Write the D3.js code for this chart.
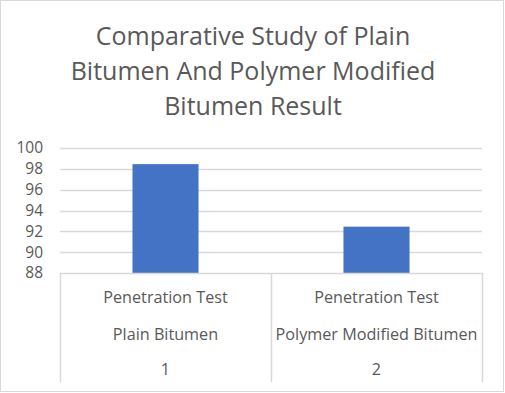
<!DOCTYPE html>
<html><head><meta charset="utf-8">
<script src="https://cdn.jsdelivr.net/npm/d3@7"></script>
<style>
html,body{margin:0;padding:0;background:#fff;}
text{font-family:"Open Sans",sans-serif;fill:#595959;}
</style></head>
<body><svg id="c" width="505" height="393"></svg>
<script>
const titleLines = ["Comparative Study of Plain","Bitumen And Polymer Modified","Bitumen Result"];
const level1 = ["Penetration Test","Penetration Test"];
const level2 = ["Plain Bitumen","Polymer Modified Bitumen"];
const level3 = ["1","2"];
const values = [98.45, 92.45];
const yTicks = [88,90,92,94,96,98,100];

const svg = d3.select("#c");
const W=505,H=393;
const grid="#d9d9d9";
svg.append("rect").attr("x",0.5).attr("y",0.5).attr("width",W-2).attr("height",H-2)
  .attr("fill","#fff").attr("stroke",grid);

const m={l:60,r:482,t:148,b:273};
const x=d3.scaleBand().domain(d3.range(values.length)).range([m.l,m.r]).paddingInner(0.687).paddingOuter(0.3435);
const y=d3.scaleLinear().domain([88,100]).range([m.b,m.t]);

// title
const tg=svg.append("g");
titleLines.forEach((t,i)=>{
  tg.append("text").attr("x",253).attr("y",45+i*35).attr("text-anchor","middle")
    .style("font-size","25px").text(t);
});

// gridlines
svg.append("g").selectAll("line").data(yTicks.slice(1)).join("line")
  .attr("x1",m.l).attr("x2",m.r).attr("y1",d=>Math.round(y(d))+0.5).attr("y2",d=>Math.round(y(d))+0.5)
  .attr("stroke",grid).attr("stroke-width",1.5);

// y axis labels
const ya=svg.append("g").attr("transform",`translate(${m.l},0)`)
  .call(d3.axisLeft(y).tickValues(yTicks).tickSize(0).tickPadding(17));
ya.select(".domain").remove();
ya.selectAll("text").style("font-size","15.5px").style("font-family","'Open Sans',sans-serif").attr("fill","#595959");

// bars
svg.append("g").selectAll("rect").data(values).join("rect")
  .attr("x",(d,i)=>x(i)).attr("width",x.bandwidth())
  .attr("y",d=>y(d)).attr("height",d=>y(88)-y(d)).attr("fill","#4472c4");

// multi-level category axis
const ax=svg.append("g");
ax.append("line").attr("x1",m.l).attr("x2",m.r).attr("y1",m.b+0.5).attr("y2",m.b+0.5).attr("stroke",grid).attr("stroke-width",1.5);
const bounds=[m.l, (m.l+m.r)/2, m.r];
ax.selectAll("line.v").data(bounds).join("line").attr("class","v")
  .attr("x1",d=>Math.round(d)+0.5).attr("x2",d=>Math.round(d)+0.5).attr("y1",m.b).attr("y2",382)
  .attr("stroke",grid).attr("stroke-width",1.5);
const cx=i=>x(i)+x.bandwidth()/2;
[[level1,303],[level2,340],[level3,375]].forEach(([arr,yy])=>{
  ax.selectAll(null).data(arr).join("text").attr("x",(d,i)=>cx(i)).attr("y",yy)
    .attr("text-anchor","middle").style("font-size","16.2px").text(d=>d);
});
</script></body></html>
